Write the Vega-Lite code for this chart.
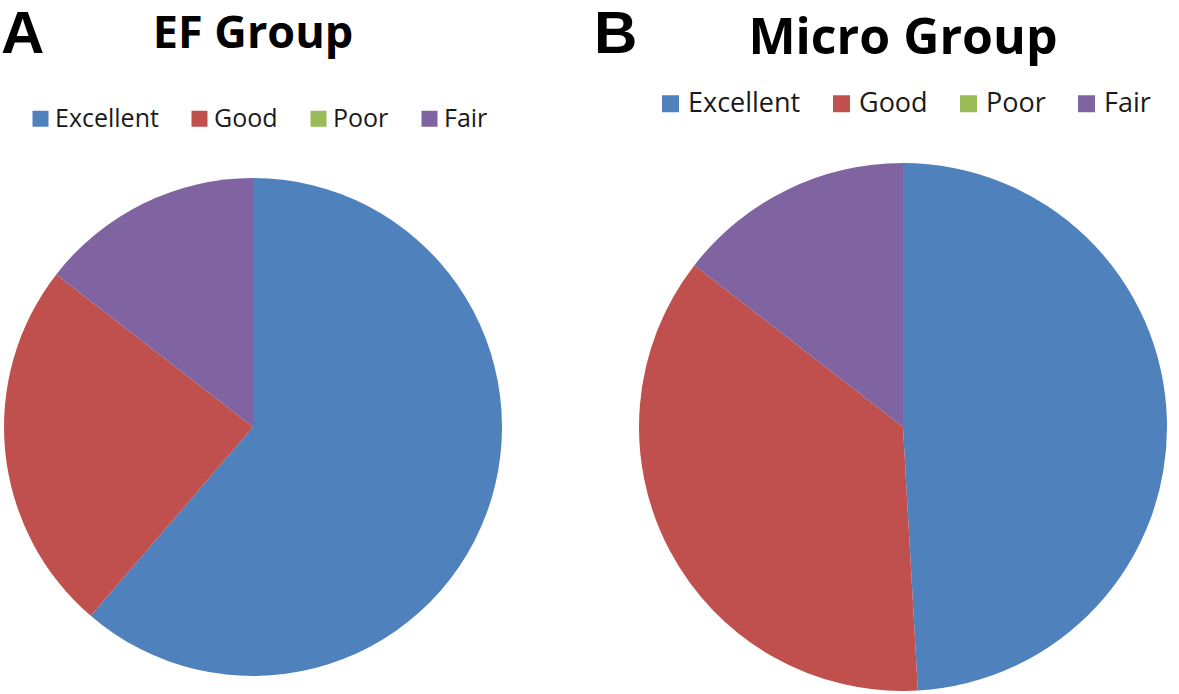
{
  "$schema": "https://vega.github.io/schema/vega-lite/v6.json",
  "background": "white",
  "padding": {"left": 1, "top": 5, "right": 0, "bottom": 0},
  "spacing": 92,
  "config": {"view": {"stroke": null}, "concat": {"spacing": 0}},
  "datasets": {
    "ef": [
      {"category": "Excellent", "value": 61.3, "rank": 1},
      {"category": "Good", "value": 24.2, "rank": 2},
      {"category": "Poor", "value": 0, "rank": 3},
      {"category": "Fair", "value": 14.5, "rank": 4}
    ],
    "micro": [
      {"category": "Excellent", "value": 49.1, "rank": 1},
      {"category": "Good", "value": 36.4, "rank": 2},
      {"category": "Poor", "value": 0, "rank": 3},
      {"category": "Fair", "value": 14.5, "rank": 4}
    ]
  },
  "resolve": {"scale": {"color": "independent"}, "legend": {"color": "independent"}},
  "hconcat": [
    {
      "title": {"text": "A", "anchor": "start", "font": "Liberation Sans", "fontSize": 60, "fontWeight": "bold", "color": "black", "offset": -54, "dx": -3},
      "resolve": {"scale": {"color": "independent"}, "legend": {"color": "independent"}},
      "hconcat": [
        {
          "title": {"text": "EF Group", "anchor": "middle", "frame": "group", "font": "Open Sans", "fontSize": 45, "fontWeight": "bold", "color": "black", "offset": 49},
          "width": 498,
          "height": 528,
          "data": {"name": "ef"},
          "mark": {"type": "arc", "outerRadius": 249},
          "encoding": {
            "theta": {"field": "value", "type": "quantitative", "stack": true},
            "order": {"field": "rank", "type": "quantitative"},
            "color": {
              "field": "category",
              "type": "nominal",
              "scale": {"domain": ["Excellent", "Good", "Poor", "Fair"], "range": ["#4F81BD", "#C0504D", "#9BBB59", "#8064A2"]},
              "legend": {
                "orient": "none", "legendX": 24, "legendY": -57, "direction": "horizontal", "title": null,
                "symbolType": "square", "symbolSize": 256, "symbolStrokeWidth": 0, "symbolOpacity": 1,
                "labelFont": "Open Sans", "labelFontSize": 25, "labelColor": "#1a1a1a", "labelOffset": 2,
                "columnPadding": 28, "padding": 0
              }
            }
          }
        }
      ]
    },
    {
      "title": {"text": "B", "anchor": "start", "font": "Liberation Sans", "fontSize": 60, "fontWeight": "bold", "color": "black", "offset": -52, "dx": -45},
      "resolve": {"scale": {"color": "independent"}, "legend": {"color": "independent"}},
      "hconcat": [
        {
          "title": {"text": "Micro Group", "anchor": "middle", "frame": "group", "font": "Open Sans", "fontSize": 50, "fontWeight": "bold", "color": "black", "offset": 26},
          "width": 528,
          "height": 528,
          "data": {"name": "micro"},
          "mark": {"type": "arc", "outerRadius": 264},
          "encoding": {
            "theta": {"field": "value", "type": "quantitative", "stack": true},
            "order": {"field": "rank", "type": "quantitative"},
            "color": {
              "field": "category",
              "type": "nominal",
              "scale": {"domain": ["Excellent", "Good", "Poor", "Fair"], "range": ["#4F81BD", "#C0504D", "#9BBB59", "#8064A2"]},
              "legend": {
                "orient": "none", "legendX": 18, "legendY": -73, "direction": "horizontal", "title": null,
                "symbolType": "square", "symbolSize": 289, "symbolStrokeWidth": 0, "symbolOpacity": 1,
                "labelFont": "Open Sans", "labelFontSize": 27, "labelColor": "#1a1a1a", "labelOffset": 4,
                "columnPadding": 27, "padding": 0
              }
            }
          }
        }
      ]
    }
  ]
}
